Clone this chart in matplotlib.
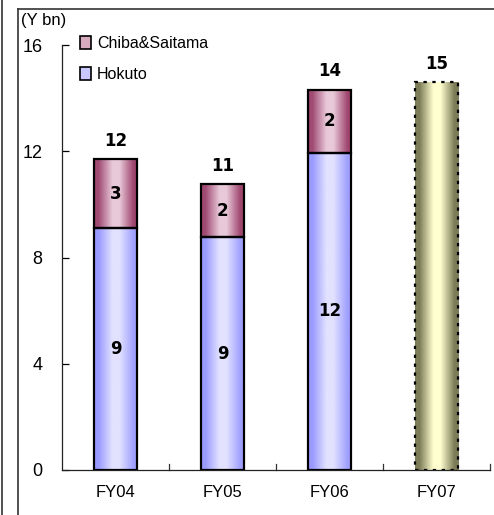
import numpy as np
import matplotlib
matplotlib.use("Agg")
import matplotlib.pyplot as plt
from matplotlib.colors import LinearSegmentedColormap
from matplotlib.patches import Patch
from matplotlib.lines import Line2D

categories = ["FY04", "FY05", "FY06", "FY07"]
hokuto = [9.1, 8.76, 11.95]
chiba = [2.6, 1.99, 2.37]
fy07_plan = 14.6
yticks = [0, 4, 8, 12, 16]

plt.rcParams['font.family'] = ['Liberation Sans', 'DejaVu Sans']

fig = plt.figure(figsize=(4.94, 5.15), dpi=100)
W, H = 494, 515
ax = fig.add_axes([62 / W, 45 / H, 428 / W, 425 / H])

x = np.arange(len(categories))
width = 0.41

def grad_cmap(edge_l, center, edge_r):
    return LinearSegmentedColormap.from_list(
        "g", [(0, edge_l), (0.1, edge_l), (0.42, center), (0.58, center), (0.9, edge_r), (1, edge_r)])

cm_h = grad_cmap("#9a9aff", "#e2e2ff", "#a0a0ff")
cm_c = grad_cmap("#a04a72", "#e8c9d9", "#a0466e")
cm_p = grad_cmap("#7c7c58", "#ffffd0", "#7c7c58")
grad = np.linspace(0, 1, 256).reshape(1, -1)

def gbar(xs, heights, bottoms, cmap, ls='-'):
    bars = ax.bar(xs, heights, width, bottom=bottoms, facecolor='none',
                  edgecolor='black', linewidth=1.6, linestyle=ls, zorder=3)
    for p in bars:
        x0, y0 = p.get_x(), p.get_y()
        im = ax.imshow(grad, cmap=cmap, aspect='auto', zorder=2,
                       extent=(x0, x0 + p.get_width(), y0, y0 + p.get_height()),
                       interpolation='bilinear')
        im.set_clip_path(p)
    return bars

xs3 = x[:3]
gbar(xs3, hokuto, 0, cm_h)
tot = [h + c for h, c in zip(hokuto, chiba)]
gbar(xs3, chiba, hokuto, cm_c)
gbar([x[3]], [fy07_plan], 0, cm_p, ls=(0, (1.5, 2.5)))

lab = dict(ha='center', fontsize=12, fontweight='bold', family='DejaVu Sans', zorder=5)
for i in range(3):
    ax.text(x[i], hokuto[i] / 2, f"{round(hokuto[i])}", va='center', **lab)
    ax.text(x[i], hokuto[i] + chiba[i] / 2, f"{round(chiba[i])}", va='center', **lab)
    ax.text(x[i], tot[i] + 0.35, f"{round(tot[i])}", va='bottom', **lab)
ax.text(x[3], fy07_plan + 0.35, f"{round(fy07_plan)}", va='bottom', **lab)

ax.set_xlim(-0.5, 3.5)
ax.set_ylim(0, 16)
ax.set_yticks(yticks)
ax.set_yticklabels([str(t) for t in yticks], fontsize=13)
ax.set_xticks(x)
ax.set_xticklabels(categories, fontsize=12)
ax.tick_params(axis='x', length=0, pad=11)
ax.tick_params(axis='y', direction='in', length=5, width=0.9, pad=14)
for b in np.arange(0.5, 3.6, 1.0):
    ax.plot([b, b], [0, 0.22], color='#333333', lw=0.9, zorder=1, clip_on=False)
for s in ['top', 'right']:
    ax.spines[s].set_visible(False)
for s in ['left', 'bottom']:
    ax.spines[s].set_linewidth(0.9)
    ax.spines[s].set_color('#222222')

fig.text(21 / W, 1 - 20 / H, "(Y bn)", fontsize=12, va='center', ha='left')

# legend
handles = [Patch(facecolor='#d8aabd', edgecolor='black', linewidth=1.2),
           Patch(facecolor='#c8c8ff', edgecolor='black', linewidth=1.2)]
ax.legend(handles, ["Chiba&Saitama", "Hokuto"], loc='upper left',
          bbox_to_anchor=(4 / 428, 1.055), frameon=False, fontsize=11.5,
          handlelength=0.65, handleheight=0.85, handletextpad=0.4, labelspacing=1.0)

# outer frame lines
fig.add_artist(Line2D([1.5 / W, 1.5 / W], [0, 1], color='#333333', lw=1.2))
fig.add_artist(Line2D([17.5 / W, 17.5 / W], [0, 1 - 9 / H], color='#333333', lw=1.2))
fig.add_artist(Line2D([17.5 / W, 1], [1 - 9 / H, 1 - 9 / H], color='#333333', lw=1.2))

fig.savefig("out.png", dpi=100)
